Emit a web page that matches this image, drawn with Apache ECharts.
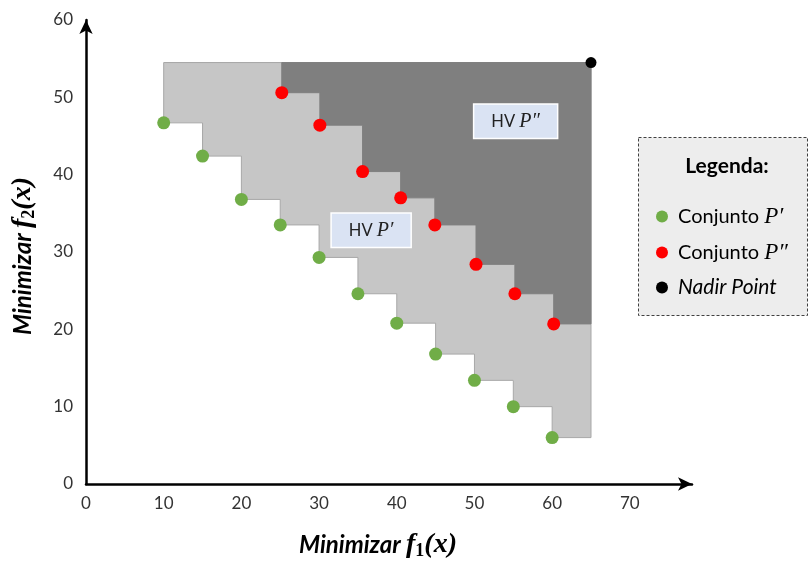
<!DOCTYPE html>
<html>
<head>
<meta charset="utf-8">
<title>Hypervolume P' / P''</title>
<script src="https://cdn.jsdelivr.net/npm/echarts@6/dist/echarts.min.js"></script>
<style>
  html, body { margin: 0; padding: 0; background: #fff; }
  #chart { width: 809px; height: 565px; }
</style>
</head>
<body>
<div id="chart"></div>
<script>
// conjunto P' (verde)
var p1X = [10, 15, 20, 25, 30, 35, 40, 45, 50, 55, 60];
var p1Y = [46.7, 42.4, 36.8, 33.5, 29.3, 24.6, 20.8, 16.8, 13.4, 10.0, 6.0];
// conjunto P'' (vermelho)
var p2X = [25.2, 30.1, 35.6, 40.5, 44.9, 50.2, 55.2, 60.2];
var p2Y = [50.6, 46.4, 40.4, 37.0, 33.5, 28.4, 24.6, 20.7];
// nadir point
var nadirX = [65.0];
var nadirY = [54.5];
// caixas de texto HV
var boxNames = ['HV P″', 'HV P′'];
var boxX = [55.3, 36.7];
var boxY = [46.9, 32.8];
var xTicks = [0, 10, 20, 30, 40, 50, 60, 70];
var yTicks = [0, 10, 20, 30, 40, 50, 60];

var chart = echarts.init(document.getElementById('chart'));

function pairs(xs, ys) {
  return xs.map(function (x, i) { return [x, ys[i]]; });
}

// polígono escada (área dominada até o nadir)
function hvPolygon(xs, ys, fill, stroke) {
  return function (params, api) {
    var nx = nadirX[0], ny = nadirY[0];
    var pts = [api.coord([xs[0], ny]), api.coord([xs[0], ys[0]])];
    for (var i = 1; i < xs.length; i++) {
      pts.push(api.coord([xs[i], ys[i - 1]]));
      pts.push(api.coord([xs[i], ys[i]]));
    }
    pts.push(api.coord([nx, ys[ys.length - 1]]));
    pts.push(api.coord([nx, ny]));
    return {
      type: 'polygon',
      shape: { points: pts },
      style: { fill: fill, stroke: stroke, lineWidth: 1 }
    };
  };
}

var mathFont = 'Liberation Serif';
var textFont = 'Lato';

// título dos eixos com f em itálico e índice
var titleRich = {
  a: { fontFamily: textFont, fontWeight: 'bold', fontStyle: 'italic', fontSize: 24, color: '#000', lineHeight: 30 },
  f: { fontFamily: mathFont, fontWeight: 'bold', fontStyle: 'italic', fontSize: 28, color: '#000', lineHeight: 30 },
  s: { fontFamily: mathFont, fontWeight: 'bold', fontSize: 18, color: '#000', lineHeight: 16, verticalAlign: 'bottom' }
};

var option = {
  animation: false,
  grid: { left: 86, right: 117, top: 20, bottom: 78 },
  xAxis: {
    type: 'value',
    min: 0,
    max: 78,
    interval: 10,
    name: '{a|Minimizar }{f|f}{s|1}{f|(x)}',
    nameLocation: 'middle',
    nameGap: 46,
    nameTextStyle: { rich: titleRich, padding: [0, 22, 0, 0] },
    axisLine: { lineStyle: { color: '#000', width: 2.5 }, symbol: ['none', 'arrow'], symbolSize: [10, 14] },
    axisTick: { show: false },
    splitLine: { show: false },
    axisLabel: {
      margin: 11,
      fontFamily: textFont,
      fontSize: 17,
      color: '#333',
      formatter: function (v) { return xTicks.indexOf(v) >= 0 ? String(v) : ''; }
    }
  },
  yAxis: {
    type: 'value',
    min: 0,
    max: 60,
    interval: 10,
    name: '{a|Minimizar }{f|f}{s|2}{f|(x)}',
    nameLocation: 'middle',
    nameRotate: 90,
    nameGap: 48,
    nameTextStyle: { rich: titleRich, padding: [0, 8, 0, 0] },
    axisLine: { lineStyle: { color: '#000', width: 2.5 }, symbol: ['none', 'arrow'], symbolSize: [10, 14] },
    axisTick: { show: false },
    splitLine: { show: false },
    axisLabel: {
      margin: 13,
      fontFamily: textFont,
      fontSize: 17,
      color: '#333',
      formatter: function (v) { return yTicks.indexOf(v) >= 0 ? String(v) : ''; }
    }
  },
  legend: {
    orient: 'vertical',
    left: 651,
    top: 200,
    z: 10,
    itemWidth: 12,
    itemHeight: 12,
    itemGap: 13,
    icon: 'circle',
    data: ['Conjunto P′', 'Conjunto P″', 'Nadir Point'],
    selectedMode: false,
    formatter: function (name) {
      if (name === 'Nadir Point') return '{i|Nadir Point}';
      return '{a|Conjunto }{m|' + name.slice(9) + '}';
    },
    textStyle: {
      padding: [0, 0, 0, 5],
      rich: {
        a: { fontFamily: textFont, fontSize: 20, color: '#000', lineHeight: 24 },
        m: { fontFamily: mathFont, fontStyle: 'italic', fontSize: 23, color: '#000', lineHeight: 24 },
        i: { fontFamily: textFont, fontStyle: 'italic', fontSize: 21, color: '#000', lineHeight: 24 }
      }
    }
  },
  graphic: [
    {
      type: 'rect',
      z: 1,
      shape: { x: 638.5, y: 137.5, width: 169, height: 178 },
      style: { fill: '#ededed', stroke: '#404040', lineWidth: 1, lineDash: [3, 2] }
    },
    {
      type: 'text',
      z: 2,
      x: 727,
      y: 166,
      style: {
        text: 'Legenda:',
        fontFamily: textFont,
        fontWeight: 'bold',
        fontSize: 21,
        fill: '#000',
        align: 'center',
        verticalAlign: 'middle'
      }
    }
  ],
  series: [
    {
      type: 'custom',
      name: 'HV P′',
      silent: true,
      z: 1,
      data: [[0, 0]],
      renderItem: hvPolygon(p1X, p1Y, '#c6c6c6', '#a8a8a8')
    },
    {
      type: 'custom',
      name: 'HV P″',
      silent: true,
      z: 2,
      data: [[0, 0]],
      renderItem: hvPolygon(p2X, p2Y, '#7f7f7f', '#7f7f7f')
    },
    {
      type: 'scatter',
      name: 'Conjunto P′',
      z: 5,
      symbolSize: 13,
      itemStyle: { color: '#70ad47', opacity: 1 },
      data: pairs(p1X, p1Y)
    },
    {
      type: 'scatter',
      name: 'Conjunto P″',
      z: 5,
      symbolSize: 13,
      itemStyle: { color: '#ff0000', opacity: 1 },
      data: pairs(p2X, p2Y)
    },
    {
      type: 'scatter',
      name: 'Nadir Point',
      z: 5,
      symbolSize: 11,
      itemStyle: { color: '#000', opacity: 1 },
      data: pairs(nadirX, nadirY)
    },
    {
      type: 'scatter',
      name: 'caixas',
      silent: true,
      z: 6,
      symbolSize: 0,
      itemStyle: { opacity: 1 },
      data: pairs(boxX, boxY),
      label: {
        show: true,
        position: 'inside',
        formatter: function (p) {
          var t = boxNames[p.dataIndex];
          return '{a|HV }{m|' + t.slice(3) + '}';
        },
        backgroundColor: '#dae3f3',
        borderColor: '#ffffff',
        borderWidth: 1.5,
        padding: [6, 17, 6, 17],
        rich: {
          a: { fontFamily: textFont, fontSize: 16.5, color: '#222', lineHeight: 21 },
          m: { fontFamily: mathFont, fontStyle: 'italic', fontSize: 20, color: '#222', lineHeight: 21 }
        }
      }
    }
  ]
};

chart.setOption(option);
</script>
</body>
</html>
